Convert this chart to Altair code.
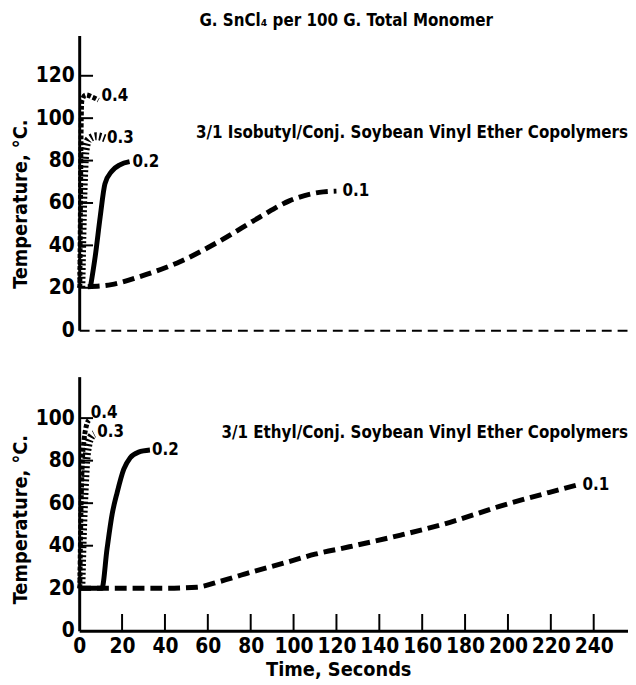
import altair as alt
import pandas as pd

# ---------------- data ----------------
# Top panel: 3/1 Isobutyl / Conj. Soybean Vinyl Ether Copolymers
iso_01_t = [4, 15, 29, 47.5, 66, 84.5, 98, 112, 120]
iso_01_T = [20.5, 21.5, 25.5, 32.5, 42.3, 53.5, 61, 65, 65.6]
iso_02_t = [5.2, 7.5, 9.8, 12, 15.2, 19, 23.5]
iso_02_T = [20, 35, 53.5, 69, 75, 78, 79.5]
iso_03_t = [1, 1.5, 2, 2.5, 3, 4.5, 8, 12]
iso_03_T = [20, 45, 65, 78, 85, 90, 91.5, 90.5]
iso_04_t = [0.3, 0.6, 0.9, 1.2, 3, 6, 9]
iso_04_T = [20, 60, 95, 108, 111, 110, 108.5]

# Bottom panel: 3/1 Ethyl / Conj. Soybean Vinyl Ether Copolymers
eth_01_t = [0, 20, 40, 55, 65, 80, 96, 110, 126, 150, 173, 196, 219, 232]
eth_01_T = [20, 20, 20, 20.5, 23, 27.5, 32, 36, 39.5, 45, 51, 58.5, 65, 68.5]
eth_02_t = [0, 10.6, 13, 15.4, 17.7, 20.8, 23.8, 27.7, 33]
eth_02_T = [20, 20, 38.6, 55, 65, 76, 81.4, 84, 85]
eth_03_t = [1, 1.7, 2.5, 3.3, 4.2, 5.5, 7]
eth_03_T = [20, 45, 65, 80, 87, 91, 92.5]
eth_04_t = [0.3, 0.8, 1.5, 2.3, 3.5, 4.5]
eth_04_T = [20, 55, 80, 90, 97, 99]

series_names = ["0.1", "0.2", "0.3", "0.4"]

top_yticks = [20, 40, 60, 80, 100, 120]
top_ylabels = [0, 20, 40, 60, 80, 100, 120]
bot_yticks = [20, 40, 60, 80, 100]
bot_ylabels = [0, 20, 40, 60, 80, 100]
bot_xticks = [20, 40, 60, 80, 100, 120, 140, 160, 180, 200, 220, 240]
bot_xlabels = [0, 20, 40, 60, 80, 100, 120, 140, 160, 180, 200, 220, 240]

main_title = "G. SnCl\u2084 per 100 G. Total Monomer"
top_caption = "3/1 Isobutyl/Conj. Soybean Vinyl Ether Copolymers"
bot_caption = "3/1 Ethyl/Conj. Soybean Vinyl Ether Copolymers"

# ---------------- layout ----------------
FONT = "DejaVu Sans Condensed, DejaVu Sans, sans-serif"
W = 555
H_TOP = 298
H_BOT = 257
X_DOMAIN = [0, 256]

styles = {
    "0.1": dict(strokeDash=[12, 6], strokeWidth=5),
    "0.2": dict(strokeWidth=5),
    "0.3": dict(strokeDash=[2, 2.5], strokeWidth=8),
    "0.4": dict(strokeDash=[4, 2], strokeWidth=5),
}
label_dx_top = {"0.1": 6, "0.2": 3, "0.3": 2, "0.4": 3}
label_dy_top = {"0.1": 0, "0.2": 0, "0.3": 0, "0.4": -4}
label_dx_bot = {"0.1": 6, "0.2": 2, "0.3": 3, "0.4": 2}
label_dy_bot = {"0.1": 0, "0.2": 0, "0.3": -2, "0.4": -7}


def make_df(pairs):
    rows = []
    for name, (ts, Ts) in zip(series_names, pairs):
        for t, T in zip(ts, Ts):
            rows.append({"series": name, "t": t, "T": T})
    return pd.DataFrame(rows)


def panel(df, height, ydomain, ylabels, yticks, caption, caption_y, title_y,
          bottom, dxs, dys):
    if bottom:
        xaxis = alt.Axis(values=bot_xlabels, title="Time, Seconds", ticks=False,
                         domainWidth=3, labelPadding=5, titlePadding=3,
                         titleX=262, labelFlush=False, grid=False)
    else:
        xaxis = alt.Axis(labels=False, ticks=False, title=None, grid=False,
                         domainDash=[10, 6], domainWidth=2)
    yaxis = alt.Axis(values=ylabels, title="Temperature, \u00b0C.", ticks=False,
                     domainWidth=3, labelPadding=5, titlePadding=5, grid=False,
                     titleY=title_y)
    xs = alt.Scale(domain=X_DOMAIN, nice=False, zero=False)
    ys = alt.Scale(domain=ydomain, nice=False)

    def X(field):
        return alt.X(field, scale=xs, axis=xaxis)

    def Y(field):
        return alt.Y(field, scale=ys, axis=yaxis)

    layers = []
    for name in series_names:
        layers.append(
            alt.Chart(df).transform_filter(alt.datum.series == name)
            .mark_line(color="black", interpolate="monotone", **styles[name])
            .encode(x=X("t:Q"), y=Y("T:Q"))
        )
    # labels at the end of each curve
    ends = df.groupby("series", as_index=False).last()
    for name in series_names:
        layers.append(
            alt.Chart(ends[ends["series"] == name]).mark_text(
                align="left", baseline="middle", dx=dxs[name], dy=dys[name],
                font=FONT, fontWeight="bold", fontSize=17, color="black")
            .encode(x=X("t:Q"), y=Y("T:Q"), text="series:N")
        )
    layers.append(
        alt.Chart(pd.DataFrame({"c": [caption]})).mark_text(
            align="right", baseline="middle", font=FONT, fontWeight="bold",
            fontSize=17, color="black")
        .encode(x=alt.value(W), y=alt.value(caption_y), text="c:N")
    )
    if not bottom:
        layers.append(
            alt.Chart(pd.DataFrame({"c": [main_title]})).mark_text(
                align="center", baseline="middle", font=FONT, fontWeight="bold",
                fontSize=17, color="black")
            .encode(x=alt.value(270), y=alt.value(-15), text="c:N")
        )
    # inward y ticks: short horizontal strokes pointing into the plot
    ytick_rows = [{"T": v, "t": 0} for v in yticks]
    layers.append(
        alt.Chart(alt.Data(values=ytick_rows)).mark_tick(
            orient="horizontal", size=14, thickness=2, color="black", opacity=1,
            xOffset=7)
        .encode(x=X("t:Q"), y=Y("T:Q"))
    )
    if bottom:
        xtick_rows = [{"t": v, "T": 0} for v in bot_xticks]
        layers.append(
            alt.Chart(alt.Data(values=xtick_rows)).mark_tick(
                orient="vertical", size=17, thickness=2, color="black", opacity=1,
                yOffset=-8.5)
            .encode(x=X("t:Q"), y=Y("T:Q"))
        )
    return alt.layer(*layers).properties(width=W, height=height)


top_df = make_df([(iso_01_t, iso_01_T), (iso_02_t, iso_02_T),
                  (iso_03_t, iso_03_T), (iso_04_t, iso_04_T)])
bot_df = make_df([(eth_01_t, eth_01_T), (eth_02_t, eth_02_T),
                  (eth_03_t, eth_03_T), (eth_04_t, eth_04_T)])

top = panel(top_df, H_TOP, [0, 139], top_ylabels, top_yticks, top_caption, 99,
            170, False, label_dx_top, label_dy_top)
bot = panel(bot_df, H_BOT, [0, 119.5], bot_ylabels, bot_yticks, bot_caption, 57,
            144, True, label_dx_bot, label_dy_bot)

chart = alt.vconcat(top, bot, spacing=37).properties(
    padding={"left": 2, "top": 0, "right": 0, "bottom": 0},
    background="white"
).configure_view(strokeWidth=0).configure_axis(
    labelFont=FONT, labelFontWeight="bold", labelFontSize=21, labelColor="black",
    titleFont=FONT, titleFontWeight="bold", titleFontSize=20, titleColor="black",
    domainColor="black", grid=False
)

chart.save("out.html", embed_options={"renderer": "svg", "actions": False})
